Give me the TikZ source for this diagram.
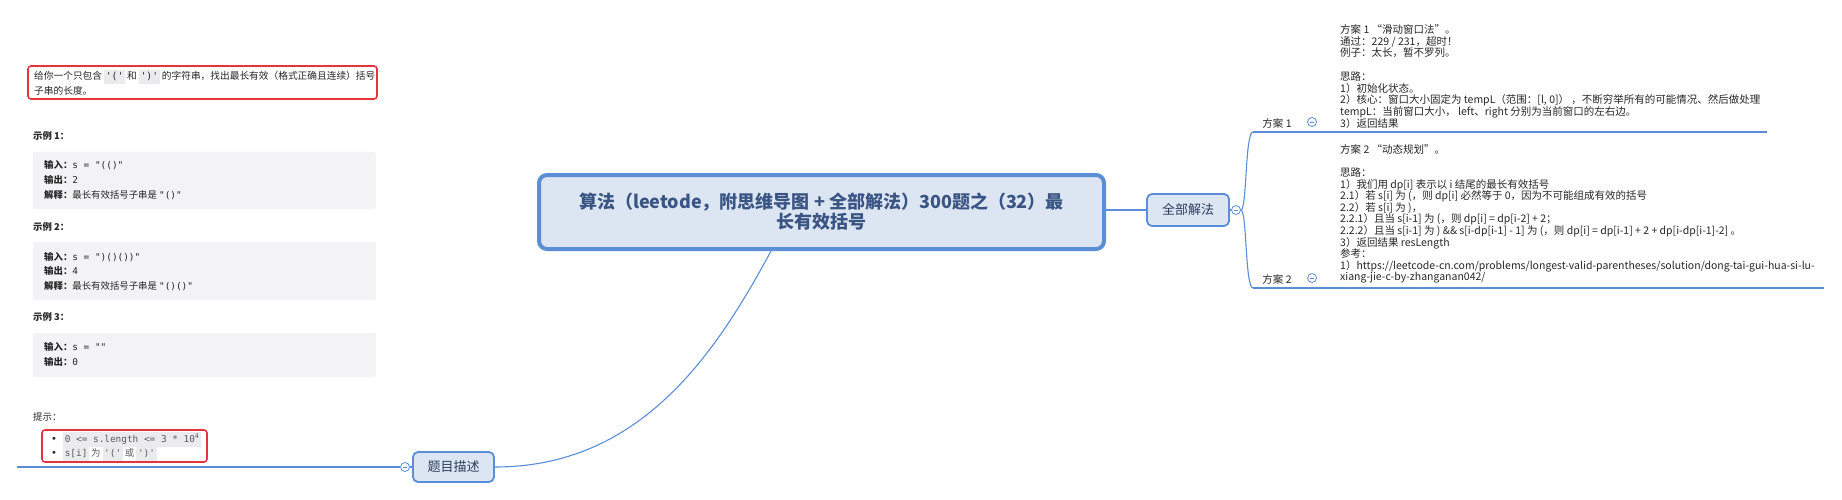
\documentclass[tikz,border=0pt]{standalone}
\usepackage{fontspec}
\setmainfont{Noto Sans CJK SC}
\newfontfamily\monof{DejaVu Sans Mono}
\newfontfamily\dejavu{DejaVu Sans}
\definecolor{xblue}{HTML}{5B8ED7}
\definecolor{xfill}{HTML}{DCE5F2}
\definecolor{xtitle}{HTML}{3A5583}
\definecolor{xtopic}{HTML}{2B3D5C}
\definecolor{xred}{HTML}{E5343E}
\definecolor{xgray}{HTML}{F3F3F5}
\definecolor{xcode}{HTML}{EBEBED}
\definecolor{xtext}{HTML}{262626}
\definecolor{xcodetext}{HTML}{5A5A5A}
\newcommand{\cspan}[1]{{\setlength{\fboxsep}{1.6pt}\colorbox{xcode}{\strut\monof #1}}}
\begin{document}
\begin{tikzpicture}[x=1pt,y=-1pt,
  rootbox/.style={draw=xblue, fill=xfill, line width=4pt, rounded corners=8pt, inner sep=0pt, text=xtitle, font=\fontsize{18}{20}\selectfont\bfseries},
  topic/.style={draw=xblue, fill=xfill, line width=1.8pt, rounded corners=5pt, inner sep=0pt, text=xtopic, font=\fontsize{13}{15}\selectfont},
  collapse/.style={circle, draw=xblue, fill=white, line width=0.8pt, minimum size=9pt, inner sep=0pt},
  conn/.style={draw=xblue, line width=1.1pt},
  uline/.style={draw=xblue, line width=2.7pt},
  branch/.style={inner sep=0pt, text=xtext, font=\fontsize{10.5}{12}\selectfont},
  rtext/.style={anchor=base west, inner sep=0pt, text=xtext, font=\fontsize{10.5}{12}\selectfont},
  ltext/.style={anchor=base west, inner sep=0pt, text=xtext, font=\fontsize{9.4}{11}\selectfont},
  redbox/.style={draw=xred, line width=1.6pt, rounded corners=3pt},
  graybox/.style={fill=xgray, rounded corners=2pt}]
\useasboundingbox (0,0) rectangle (1842,500);

% ---------- main topics ----------
\node[rootbox, minimum width=565pt, minimum height=74pt, align=center] (root) at (821.5,212)
  {算法（leetode，附思维导图 + 全部解法）300题之（32）最\\长有效括号};
\node[topic, minimum width=82pt, minimum height=32pt] (allsol) at (1188,210) {全部解法};
\node[topic, minimum width=81pt, minimum height=30pt] (desc) at (453.5,467) {题目描述};

\node[collapse] (c0) at (1236,210) {};
\node[collapse] (c1) at (1312,122) {};
\node[collapse] (c2) at (1312,278) {};
\node[collapse] (c3) at (405,467) {};
\foreach \c in {c0,c1,c2,c3}
  \draw[xblue, line width=0.7pt] ([xshift=-2.3pt]\c.center) -- ([xshift=2.3pt]\c.center);

\node[branch] (s1) at (1277,123) {方案 1};
\node[branch] (s2) at (1277,279) {方案 2};

% ---------- connectors ----------
\coordinate (u1a) at (1253,132); \coordinate (u1b) at (1304,132);
\coordinate (u1c) at (1328,132); \coordinate (u1d) at (1767,132);
\coordinate (u2a) at (1253,288); \coordinate (u2b) at (1304,288);
\coordinate (u2c) at (1328,288); \coordinate (u2d) at (1824,288);
\coordinate (l0) at (17,467); \coordinate (l1) at (390,467);

\draw[conn] (root.east |- allsol.west) -- (allsol.west);
\draw[conn] (allsol.east) -- (c0.west);
\draw[conn] (c0.east) .. controls (1247,210) and (1245,132) .. (u1a);
\draw[conn] (c0.east) .. controls (1247,210) and (1245,288) .. (u2a);
\draw[uline] (u1a) -- (u1b); \draw[conn] (u1b) -- (u1c); \draw[uline] (u1c) -- (u1d);
\draw[uline] (u2a) -- (u2b); \draw[conn] (u2b) -- (u2c); \draw[uline] (u2c) -- (u2d);
\draw[conn] ([xshift=-50.5pt]root.south) .. controls (715,355) and (640,467) .. (desc.east);
\draw[conn] (c3.east) -- (desc.west);
\draw[conn] (l1) -- (c3.west);
\draw[uline] (l0) -- (l1);

% ---------- solution texts ----------
\node[rtext] (a0) at (1340,33.3) {方案 1 “滑动窗口法”。};
\node[rtext] (a1) at (1340,45.05) {通过：229 / 231，超时！};
\node[rtext] (a2) at (1340,56.8) {例子：太长，暂不罗列。};
\node[rtext] (a4) at (1340,80.3) {思路：};
\node[rtext] (a5) at (1340,92.05) {1）初始化状态。};
\node[rtext] (a6) at (1340,103.8) {2）核心：窗口大小固定为 tempL（范围：[l, 0]） ，不断穷举所有的可能情况、然后做处理};
\node[rtext] (a7) at (1340,115.55) {tempL：当前窗口大小， left、right 分别为当前窗口的左右边。};
\node[rtext] (a8) at (1340,127.3) {3）返回结果};

\node[rtext] (b0) at (1340,153.3) {方案 2 “动态规划”。};
\node[rtext] (b2) at (1340,176.5) {思路：};
\node[rtext] (b3) at (1340,188.1) {1）我们用 dp[i] 表示以 i 结尾的最长有效括号};
\node[rtext] (b4) at (1340,199.7) {2.1）若 s[i] 为 (，则 dp[i] 必然等于 0，因为不可能组成有效的括号};
\node[rtext] (b5) at (1340,211.3) {2.2）若 s[i] 为 )，};
\node[rtext] (b6) at (1340,222.9) {2.2.1）且当 s[i-1] 为 (，则 dp[i] = dp[i-2] + 2；};
\node[rtext] (b7) at (1340,234.5) {2.2.2）且当 s[i-1] 为 ) \&\& s[i-dp[i-1] - 1] 为 (，则 dp[i] = dp[i-1] + 2 + dp[i-dp[i-1]-2] 。};
\node[rtext] (b8) at (1340,246.1) {3）返回结果 resLength};
\node[rtext] (b9) at (1340,257.7) {参考：};
\node[rtext] (b10) at (1340,269.3) {1）https://leetcode-cn.com/problems/longest-valid-parentheses/solution/dong-tai-gui-hua-si-lu-};
\node[rtext] (b11) at (1340,280.9) {xiang-jie-c-by-zhanganan042/};

% ---------- problem description ----------
\draw[redbox] (28,66) rectangle (377,99);
\node[ltext, font=\fontsize{9.7}{11}\selectfont] (d1) at (34,79.5) {给你一个只包含 \cspan{'('} 和 \cspan{')'} 的字符串，找出最长有效（格式正确且连续）括号};
\node[ltext, font=\fontsize{9.7}{11}\selectfont] (d2) at (34,94.5) {子串的长度。};

\node[ltext, font=\fontsize{9.4}{11}\selectfont\bfseries] (x1) at (33,139.5) {示例 1：};
\fill[graybox] (33,152) rectangle (376,209);
\node[ltext] (x1a) at (44,168.5) {{\bfseries 输入：}{\monof s = "(()"}};
\node[ltext] (x1b) at (44,183.5) {{\bfseries 输出：}{\monof 2}};
\node[ltext] (x1c) at (44,198.5) {{\bfseries 解释：}最长有效括号子串是 {\monof "()"}};

\node[ltext, font=\fontsize{9.4}{11}\selectfont\bfseries] (x2) at (33,230.5) {示例 2：};
\fill[graybox] (33,242) rectangle (376,300);
\node[ltext] (x2a) at (44,260.2) {{\bfseries 输入：}{\monof s = ")()())"}};
\node[ltext] (x2b) at (44,274.2) {{\bfseries 输出：}{\monof 4}};
\node[ltext] (x2c) at (44,289.5) {{\bfseries 解释：}最长有效括号子串是 {\monof "()()"}};

\node[ltext, font=\fontsize{9.4}{11}\selectfont\bfseries] (x3) at (33,320.2) {示例 3：};
\fill[graybox] (33,333) rectangle (376,377);
\node[ltext] (x3a) at (44,350.5) {{\bfseries 输入：}{\monof s = ""}};
\node[ltext] (x3b) at (44,365.5) {{\bfseries 输出：}{\monof 0}};

\node[ltext] (tip) at (33,420.5) {提示：};
\draw[redbox] (42,430) rectangle (207,462);
\node[ltext, font=\fontsize{10}{11}\selectfont\dejavu] (bu1) at (51,442.5) {•};
\node[ltext, font=\fontsize{10}{11}\selectfont\dejavu] (bu2) at (51,456.5) {•};
\node[ltext, text=xcodetext] (h1) at (63,442.5) {\cspan{0 <= s.length <= 3 * 10\textsuperscript{4}}};
\node[ltext, text=xcodetext] (h2) at (63,456.5) {\cspan{s[i]} 为 \cspan{'('} 或 \cspan{')'}};
\end{tikzpicture}
\end{document}
